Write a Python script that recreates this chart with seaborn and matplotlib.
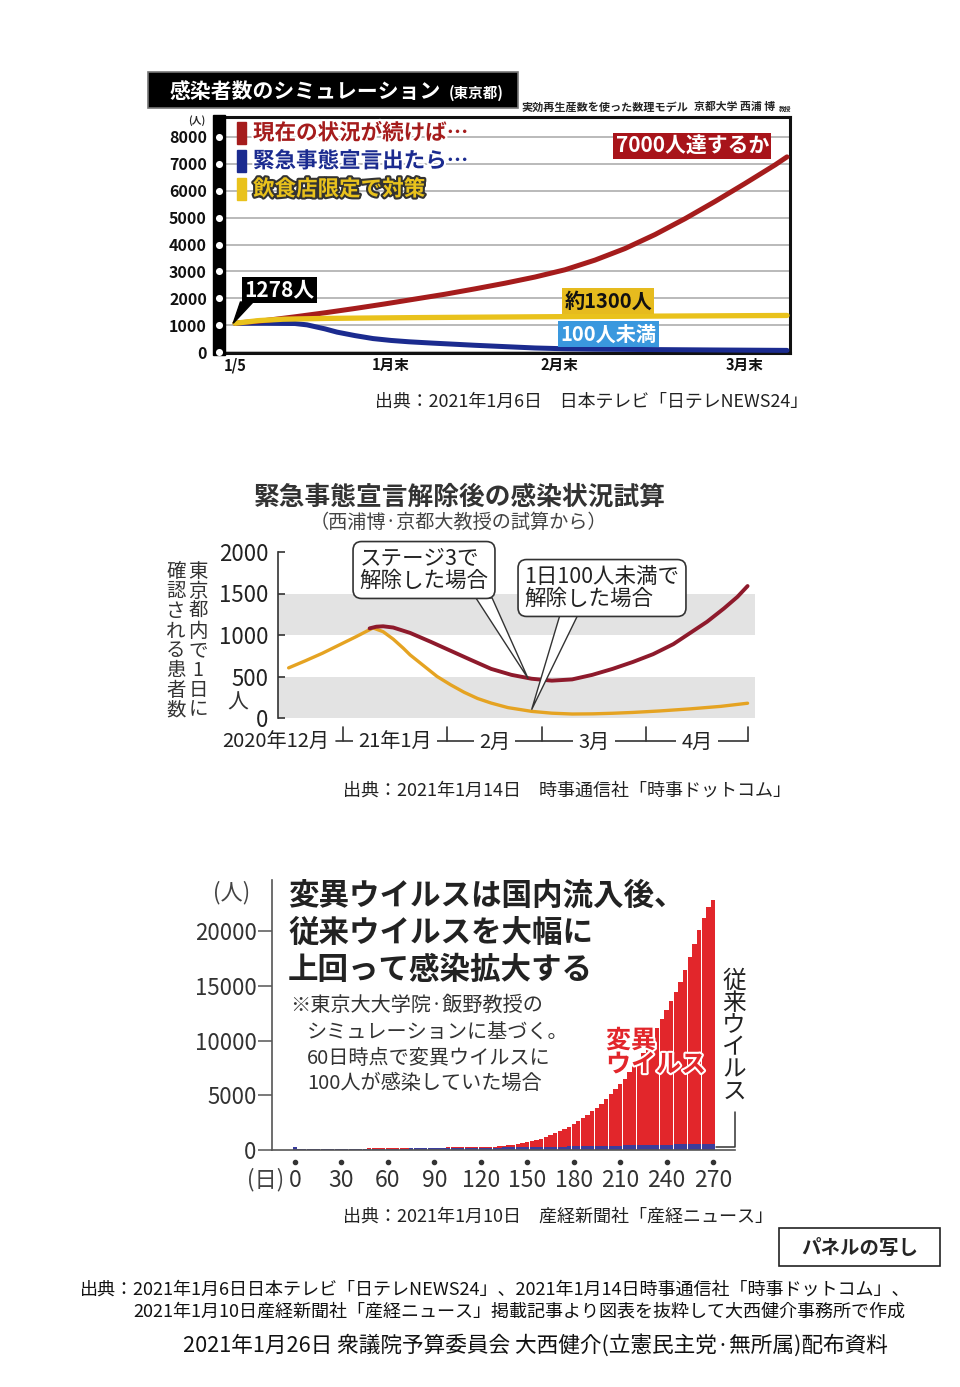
import numpy as np
import pandas as pd
import matplotlib
matplotlib.use('Agg')
import matplotlib.pyplot as plt
import seaborn as sns
from matplotlib.patches import Rectangle, Polygon
from matplotlib.lines import Line2D
import matplotlib.patheffects as pe

sns.set_theme(style='white')
plt.rcParams['font.family'] = ['Noto Sans CJK JP', 'DejaVu Sans']
plt.rcParams['axes.unicode_minus'] = False

# ---------------- Panel 1 data (Tokyo simulation, NTV) ----------------
p1_red_days = [0, 5, 10, 15, 20, 25, 30, 35, 40, 45, 50, 55, 60, 65, 70, 75, 80, 85, 90, 92]
p1_red = [1070, 1170, 1310, 1460, 1620, 1790, 1970, 2150, 2350, 2560, 2790, 3060, 3420,
          3850, 4370, 4960, 5600, 6270, 6960, 7260]
p1_blue_days = [0, 5, 10, 12, 15, 17, 20, 23, 26, 29, 33, 40, 45, 50, 55, 60, 70, 80, 92]
p1_blue = [1070, 1070, 1060, 1010, 860, 740, 610, 500, 430, 380, 330, 250, 200, 150, 120,
           105, 90, 75, 60]
p1_yel_days = [0, 4, 8, 15, 30, 50, 70, 92]
p1_yel = [1070, 1170, 1220, 1250, 1280, 1310, 1335, 1360]
p1_yticks = [0, 1000, 2000, 3000, 4000, 5000, 6000, 7000, 8000]
p1_xtick_days = [0, 26, 54, 85]
p1_xtick_labels = ['1/5', '1月末', '2月末', '3月末']
p1_series_labels = ['現在の状況が続けば…', '緊急事態宣言出たら…', '飲食店限定で対策']

# ---------------- Panel 2 data (Jiji) ----------------
p2_org_days = [15, 20, 25, 30, 35, 40, 43, 46, 49, 51, 55, 59, 63, 67, 71, 75, 80, 87, 93,
               99, 105, 111, 117, 125, 134, 143, 151]
p2_org = [604, 690, 780, 880, 980, 1085, 1040, 950, 840, 760, 630, 500, 400, 310, 235, 180,
          125, 80, 58, 48, 50, 57, 67, 85, 110, 140, 178]
p2_red_days = [39, 41, 43, 46, 51, 57, 63, 69, 75, 81, 87, 93, 99, 105, 111, 117, 123, 129,
               134, 139, 144, 148, 151]
p2_red = [1080, 1100, 1105, 1090, 1025, 920, 810, 700, 592, 520, 473, 450, 465, 520, 592,
          675, 769, 890, 1025, 1160, 1320, 1460, 1590]
p2_yticks = [0, 500, 1000, 1500, 2000]
p2_month_bounds = [31, 62, 90, 121, 151]
p2_month_labels = ['2020年12月', '21年1月', '2月', '3月', '4月']

# ---------------- Panel 3 data (Sankei) ----------------
p3_days = list(range(0, 271, 3))
p3_total = [300, 130, 120, 120, 120, 120, 120, 120, 125, 125, 125,
            130, 130, 130, 135, 135, 140, 140, 145, 145, 150,
            155, 160, 165, 170, 175, 180, 185, 190, 200, 205,
            210, 220, 230, 235, 240, 245, 250, 260, 265, 270,
            280, 290, 300, 330, 370, 430, 500, 560, 640, 710,
            800, 900, 1020, 1170, 1340, 1520, 1700, 1900, 2130, 2380,
            2650, 2930, 3230, 3530, 3820, 4230, 4660, 5090, 5560, 6000,
            6500, 7100, 7650, 8250, 8900, 9600, 10350, 11150, 11950, 12800,
            13600, 14450, 15300, 16400, 17600, 18800, 20100, 21200, 22200, 22830]
p3_conv = [250, 110, 105, 105, 105, 105, 105, 105, 110, 110, 110,
           110, 115, 115, 115, 120, 120, 120, 125, 125, 125,
           130, 130, 135, 135, 140, 140, 145, 150, 150, 155,
           160, 165, 170, 175, 180, 185, 190, 195, 200, 205,
           210, 215, 220, 225, 230, 240, 245, 250, 255, 260,
           270, 275, 280, 290, 295, 300, 310, 315, 325, 330,
           340, 345, 355, 360, 370, 375, 385, 390, 400, 410,
           415, 425, 430, 440, 450, 455, 465, 475, 480, 490,
           500, 505, 515, 520, 530, 535, 545, 550, 555, 560]
p3_yticks = [0, 5000, 10000, 15000, 20000]
p3_xticks = list(range(0, 271, 30))

W, H = 960, 1387


def fx(px):
    return px / W


def fy(py):
    return 1 - py / H


def frect(x0, y0, x1, y1):
    return [fx(x0), fy(y1), (x1 - x0) / W, (y1 - y0) / H]


fig = plt.figure(figsize=(9.6, 13.87), dpi=100)
fig.patch.set_facecolor('white')

# ======================= PANEL 1 =======================
RED1, BLUE1, YEL1 = '#a51c1c', '#1b2b8f', '#e9c21c'
ax1 = fig.add_axes(frect(225, 117, 790, 353))
ax1.set_facecolor('white')
sns.lineplot(x=p1_blue_days, y=p1_blue, ax=ax1, color=BLUE1, linewidth=3.6, zorder=3)
sns.lineplot(x=p1_red_days, y=p1_red, ax=ax1, color=RED1, linewidth=3.6, zorder=3)
sns.lineplot(x=p1_yel_days, y=p1_yel, ax=ax1, color=YEL1, linewidth=3.8, zorder=4)
for ln in ax1.lines:
    ln.set_solid_capstyle('round')
ax1.set_xlim(-1.67, 92.5)
ax1.set_ylim(-37, 8744)
ax1.set_xlabel('')
ax1.set_ylabel('')
ax1.set_yticks(p1_yticks)
ax1.set_yticklabels([str(v) for v in p1_yticks], fontsize=11.5, fontweight='bold', color='#111')
ax1.tick_params(axis='y', length=0, pad=13)
ax1.set_xticks(p1_xtick_days)
ax1.set_xticklabels(p1_xtick_labels, fontsize=10.5, fontweight='bold', color='#111')
ax1.tick_params(axis='x', length=0, pad=3)
ax1.grid(axis='y', color='#b4b4b4', linewidth=1.3)
ax1.grid(axis='x', visible=False)
ax1.set_axisbelow(True)
for s in ['top', 'right', 'bottom']:
    ax1.spines[s].set_visible(True)
    ax1.spines[s].set_color('#111')
    ax1.spines[s].set_linewidth(2.2)
ax1.spines['left'].set_visible(False)
ax1.add_patch(Rectangle((-12 / 565, -2 / 236), 12 / 565, 240 / 236, transform=ax1.transAxes,
                        color='black', clip_on=False, zorder=5))
ax1.scatter([-6 / 565] * len(p1_yticks), p1_yticks, transform=ax1.get_yaxis_transform(),
            s=26, color='white', zorder=6, clip_on=False, linewidths=0)
fig.text(fx(197), fy(121), '(人)', fontsize=7, fontweight='bold', ha='center', va='center')

leg_cols = [RED1, BLUE1, YEL1]
for i, (lab, col) in enumerate(zip(p1_series_labels, leg_cols)):
    yc = 133 + 28 * i
    fig.add_artist(Rectangle((fx(237), fy(yc + 11)), 9 / W, 22 / H, transform=fig.transFigure,
                             color=col))
    stroke = '#333' if col == YEL1 else 'white'
    fig.text(fx(253), fy(yc), lab, fontsize=15.5, fontweight='bold', color=col, ha='left',
             va='center', path_effects=[pe.withStroke(linewidth=3, foreground=stroke)])

ax1.text(76.2, 7665, '7000人達するか', fontsize=15, fontweight='bold', color='white',
         ha='center', va='center', zorder=7,
         bbox=dict(boxstyle='square,pad=0.12', fc='#a8141a', ec='none'))
ax1.text(62.2, 1898, '約1300人', fontsize=14.5, fontweight='bold', color='#111',
         ha='center', va='center', zorder=7,
         bbox=dict(boxstyle='square,pad=0.12', fc='#e6bb1e', ec='none'))
ax1.text(62.2, 670, '100人未満', fontsize=14.5, fontweight='bold', color='white',
         ha='center', va='center', zorder=7,
         bbox=dict(boxstyle='square,pad=0.12', fc='#3a98de', ec='none'))
ax1.text(7.4, 2307, '1278人', fontsize=15, fontweight='bold', color='white',
         ha='center', va='center', zorder=7,
         bbox=dict(boxstyle='square,pad=0.1', fc='black', ec='none'))
ax1.add_patch(Polygon([(0.9, 1860), (3.0, 1860), (p1_red_days[0] - 0.3, p1_red[0])],
                      closed=True, color='black', zorder=7, clip_on=False))

fig.add_artist(Rectangle((fx(148), fy(108)), 370 / W, 36 / H, transform=fig.transFigure,
                         fc='black', ec='#777', lw=1.2))
fig.text(fx(170), fy(91), '感染者数のシミュレーション', fontsize=15, fontweight='bold',
         color='white', ha='left', va='center')
fig.text(fx(449), fy(93), '(東京都)', fontsize=10.5, fontweight='bold', color='white',
         ha='left', va='center')
fig.text(fx(521), fy(107), '実効再生産数を使った数理モデル', fontsize=8, fontweight='bold',
         ha='left', va='center')
fig.text(fx(694), fy(107), '京都大学 西浦 博', fontsize=7.8, fontweight='bold',
         ha='left', va='center')
fig.text(fx(779), fy(108), '教授', fontsize=4.5, fontweight='bold', ha='left', va='center')

fig.text(fx(375), fy(402), '出典：2021年1月6日　日本テレビ「日テレNEWS24」', fontsize=12.9,
         ha='left', va='center', color='#222')

# ======================= PANEL 2 =======================
ORG2, RED2 = '#e5a322', '#8e1a2c'
ax2 = fig.add_axes(frect(278, 552, 755, 718))
ax2.set_facecolor('none')
for lo, hi in [(0, 500), (1000, 1500)]:
    ax2.axhspan(lo, hi, color='#e3e3e3', lw=0, zorder=0)
sns.lineplot(x=p2_org_days, y=p2_org, ax=ax2, color=ORG2, linewidth=2.4, zorder=3)
sns.lineplot(x=p2_red_days, y=p2_red, ax=ax2, color=RED2, linewidth=2.8, zorder=4)
ax2.set_xlim(11.85, 153.2)
ax2.set_ylim(0, 2000)
ax2.set_xlabel('')
ax2.set_ylabel('')
for s in ['top', 'right', 'bottom']:
    ax2.spines[s].set_visible(False)
ax2.spines['left'].set_color('#333')
ax2.spines['left'].set_linewidth(1.2)
ax2.set_yticks(p2_yticks)
ax2.set_yticklabels([str(v) for v in p2_yticks], fontsize=16, color='#222')
ax2.tick_params(axis='y', direction='in', length=5, width=1.2, color='#333', pad=7, left=True)
ax2.set_xticks([])
tr2 = ax2.get_xaxis_transform()
for d in p2_month_bounds:
    ax2.plot([d, d], [-0.054, -0.139], transform=tr2, color='#333', lw=1.2, clip_on=False)
ax2.plot([p2_month_bounds[0] - 2, p2_month_bounds[-1]], [-0.139, -0.139], transform=tr2,
         color='#333', lw=1.2, clip_on=False)
ax2.text(p2_month_bounds[0] - 4, -0.15, p2_month_labels[0], transform=tr2, ha='right',
         va='center', fontsize=14.5, color='#222',
         bbox=dict(boxstyle='square,pad=0.15', fc='white', ec='none'))
for i in range(1, len(p2_month_labels)):
    mid = (p2_month_bounds[i - 1] + p2_month_bounds[i]) / 2
    ax2.text(mid, -0.15, p2_month_labels[i], transform=tr2, ha='center', va='center',
             fontsize=14.5, color='#222', zorder=5,
             bbox=dict(boxstyle='square,pad=0.25', fc='white', ec='none'))

i_r = p2_red_days.index(87)
i_o = p2_org_days.index(87)
ax2.add_patch(Polygon([(70.5, 1446), (75.3, 1446), (p2_red_days[i_r] - 1, p2_red[i_r])],
                      closed=True, fc='white', ec='#333', lw=1.0, zorder=6, clip_on=False))
ax2.add_patch(Polygon([(95.4, 1241), (100.7, 1241), (p2_org_days[i_o], p2_org[i_o] + 20)],
                      closed=True, fc='white', ec='#333', lw=1.0, zorder=6, clip_on=False))
ax2.text(fx(424), fy(570), 'ステージ3で\n解除した場合', transform=fig.transFigure, fontsize=15.5,
         ha='center', va='center', multialignment='left', linespacing=1.0, color='#222',
         zorder=7, bbox=dict(boxstyle='round,pad=0.3,rounding_size=0.4', fc='white',
                             ec='#333', lw=1.2))
ax2.text(fx(602), fy(588), '1日100人未満で\n解除した場合', transform=fig.transFigure,
         fontsize=15.5, ha='center', va='center', multialignment='left', linespacing=1.0,
         color='#222', zorder=7,
         bbox=dict(boxstyle='round,pad=0.3,rounding_size=0.4', fc='white', ec='#333', lw=1.2))

fig.text(fx(460), fy(497), '緊急事態宣言解除後の感染状況試算', fontsize=18.5, fontweight='bold',
         ha='center', va='center', color='#333')
fig.text(fx(458), fy(522), '（西浦博·京都大教授の試算から）', fontsize=13.8, ha='center',
         va='center', color='#444')
fig.text(fx(198), fy(641), '\n'.join('東京都内で1日に'), fontsize=14, ha='center',
         va='center', linespacing=0.92, color='#333')
fig.text(fx(176), fy(641), '\n'.join('確認される患者数'), fontsize=14, ha='center',
         va='center', linespacing=0.92, color='#333')
fig.text(fx(238), fy(703), '人', fontsize=15, ha='center', va='center', color='#333')

fig.text(fx(343), fy(791), '出典：2021年1月14日　時事通信社「時事ドットコム」', fontsize=13,
         ha='left', va='center', color='#222')

# ======================= PANEL 3 =======================
RED3, BLUE3 = '#e2262b', '#3b3d9c'
ax3 = fig.add_axes(frect(272, 880, 735, 1150))
sns.barplot(x=p3_days, y=p3_total, native_scale=True, color=RED3, width=0.93,
            errorbar=None, linewidth=0, saturation=1, ax=ax3)
sns.barplot(x=p3_days, y=p3_conv, native_scale=True, color=BLUE3, width=0.93,
            errorbar=None, linewidth=0, saturation=1, ax=ax3)
ax3.set_xlim(-14.86, 284.2)
ax3.set_ylim(0, 24660)
ax3.set_xlabel('')
ax3.set_ylabel('')
for s in ['top', 'right']:
    ax3.spines[s].set_visible(False)
for s in ['left', 'bottom']:
    ax3.spines[s].set_visible(True)
    ax3.spines[s].set_color('#555')
    ax3.spines[s].set_linewidth(1.2)
ax3.set_yticks(p3_yticks)
ax3.set_yticklabels([str(v) for v in p3_yticks], fontsize=16, color='#333')
ax3.tick_params(axis='y', direction='out', length=10, width=1.1, color='#555', pad=1, left=True)
ax3.set_xticks(p3_xticks)
ax3.set_xticklabels([str(v) for v in p3_xticks], fontsize=16.5, color='#333')
ax3.tick_params(axis='x', length=0, pad=14)
ax3.scatter(p3_xticks, [-0.044] * len(p3_xticks), transform=ax3.get_xaxis_transform(), s=9,
            color='#333', clip_on=False, zorder=5)

fig.text(fx(232), fy(893), '(人)', fontsize=16, ha='center', va='center', color='#444')
fig.text(fx(266), fy(1180), '(日)', fontsize=16, ha='center', va='center', color='#444')
fig.text(fx(288), fy(880), '変異ウイルスは国内流入後、\n従来ウイルスを大幅に\n上回って感染拡大する',
         fontsize=22, fontweight='bold', ha='left', va='top', linespacing=1.2, color='#222')
fig.text(fx(290), fy(1005), '※東京大大学院·飯野教授の', fontsize=14.5, ha='left', va='center',
         color='#333')
fig.text(fx(307), fy(1023), 'シミュレーションに基づく。\n60日時点で変異ウイルスに\n100人が感染していた場合',
         fontsize=14.5, ha='left', va='top', linespacing=1.24, color='#333')
fig.text(fx(606), fy(1053), '変異\nウイルス', fontsize=18, fontweight='bold', color=RED3,
         ha='left', va='center', linespacing=1.0,
         path_effects=[pe.withStroke(linewidth=3, foreground='white')])
fig.text(fx(734), fy(1037), '\n'.join('従来ウイルス'), fontsize=17, ha='center', va='center',
         linespacing=0.95, color='#222')
fig.add_artist(Line2D([fx(735), fx(735), fx(716)], [fy(1112), fy(1147), fy(1147)],
                      transform=fig.transFigure, color='#333', lw=1.1))

fig.text(fx(343), fy(1217), '出典：2021年1月10日　産経新聞社「産経ニュース」', fontsize=13,
         ha='left', va='center', color='#222')

# ======================= Footer =======================
fig.add_artist(Rectangle((fx(779), fy(1266)), 161 / W, 38 / H, transform=fig.transFigure,
                         fc='white', ec='#222', lw=1.2))
fig.text(fx(860), fy(1248), 'パネルの写し', fontsize=14, fontweight='bold', ha='center',
         va='center')
fig.text(fx(80), fy(1290),
         '出典：2021年1月6日日本テレビ「日テレNEWS24」、2021年1月14日時事通信社「時事ドットコム」、',
         fontsize=13, ha='left', va='center', color='#111')
fig.text(fx(133), fy(1312),
         '2021年1月10日産経新聞社「産経ニュース」掲載記事より図表を抜粋して大西健介事務所で作成',
         fontsize=13, ha='left', va='center', color='#111')
fig.text(fx(183), fy(1345), '2021年1月26日 衆議院予算委員会 大西健介(立憲民主党·無所属)配布資料',
         fontsize=15.6, ha='left', va='center', color='#111')

fig.savefig('out.png', dpi=100, facecolor='white')
